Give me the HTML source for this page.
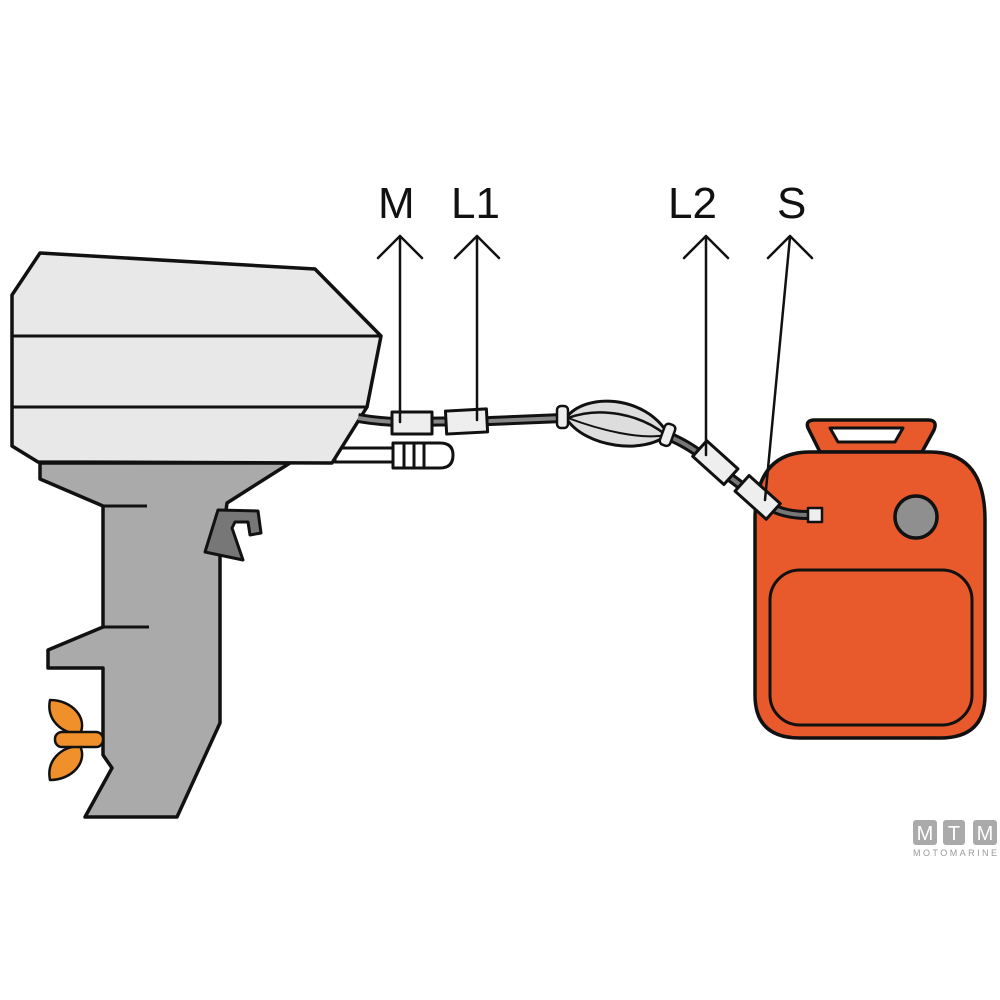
<!DOCTYPE html>
<html><head><meta charset="utf-8"><style>
html,body{margin:0;padding:0;background:#fff;width:1000px;height:1000px;overflow:hidden}
svg{display:block}
</style></head><body>
<svg width="1000" height="1000" viewBox="0 0 1000 1000" xmlns="http://www.w3.org/2000/svg" stroke-linejoin="round">
<!-- lower unit -->
<polygon points="40,463 290,463 227,503 220,556 220,723 177,817 85,817 112,768 103,755 103,668 48,668 48,650 103,627 103,506 40,479" fill="#aaaaaa" stroke="#111" stroke-width="3.5"/>
<line x1="103" y1="506" x2="147" y2="506" stroke="#111" stroke-width="3"/>
<line x1="103" y1="627" x2="149" y2="627" stroke="#111" stroke-width="3"/>
<!-- bracket -->
<polygon points="205,552 218,510 258,511 261,533 250,535 248,522 235,522 232,528 243,560" fill="#777" stroke="#111" stroke-width="3"/>
<!-- propeller -->
<path d="M50,700 C72,700 88,718 80,734 C62,734 46,720 50,700 Z" fill="#f0902a" stroke="#111" stroke-width="2.5"/>
<path d="M50,780 C72,780 88,762 80,746 C62,746 46,760 50,780 Z" fill="#f0902a" stroke="#111" stroke-width="2.5"/>
<rect x="55" y="732" width="48" height="15" rx="7" fill="#f0902a" stroke="#111" stroke-width="2.5"/>
<!-- lower tube + bullet -->
<rect x="335" y="448" width="60" height="14" fill="#fff" stroke="#111" stroke-width="3"/>
<path d="M393,443 L440,443 Q453,443 453,455 Q453,468 440,468 L393,468 Z" fill="#fff" stroke="#111" stroke-width="3"/>
<line x1="404" y1="444" x2="404" y2="467" stroke="#111" stroke-width="3"/>
<line x1="414" y1="444" x2="414" y2="467" stroke="#111" stroke-width="3"/>
<line x1="424" y1="444" x2="424" y2="467" stroke="#111" stroke-width="3"/>
<!-- cowling -->
<polygon points="40,253 315,269 381,336 367,407 332,463 38,462 12,446 12,295" fill="#e8e8e8" stroke="#111" stroke-width="3.5"/>
<line x1="12" y1="336" x2="381" y2="336" stroke="#111" stroke-width="3"/>
<line x1="12" y1="407" x2="367" y2="407" stroke="#111" stroke-width="3"/>
<!-- hose -->
<path d="M358,418 Q375,421 395,422 L490,421 L563,418" fill="none" stroke="#111" stroke-width="10"/>
<path d="M358,418 Q375,421 395,422 L490,421 L563,418" fill="none" stroke="#888" stroke-width="4"/>
<path d="M668,436 Q690,445 710,462 L760,500" fill="none" stroke="#111" stroke-width="10"/>
<path d="M668,436 Q690,445 710,462 L760,500" fill="none" stroke="#777" stroke-width="4"/>
<!-- connectors M L1 -->
<rect x="392" y="412" width="40" height="22" fill="#eee" stroke="#111" stroke-width="3"/>
<rect x="446" y="410" width="41" height="23" fill="#eee" stroke="#111" stroke-width="3" transform="rotate(-3 466 421)"/>
<!-- bulb -->
<path d="M566,418 C585,392 645,395 668,434 C645,455 585,448 566,418 Z" fill="#ddd" stroke="#111" stroke-width="3"/>
<path d="M568,418 C600,406 640,414 666,435" fill="none" stroke="#111" stroke-width="2.5"/>
<path d="M568,418 C600,430 640,440 666,435" fill="none" stroke="#111" stroke-width="2"/>
<rect x="557" y="406" width="11" height="22" rx="4" fill="#eee" stroke="#111" stroke-width="2.5"/>
<rect x="662" y="424" width="11" height="22" rx="4" fill="#eee" stroke="#111" stroke-width="2.5" transform="rotate(20 668 435)"/>
<!-- tank -->
<path d="M820,452 L808,428 Q805,420 815,420 L928,420 Q938,420 934,430 L922,452 Z" fill="#e85a2c" stroke="#111" stroke-width="3.5"/>
<path d="M830,428 L903,428 L895,442 L838,442 Z" fill="#fff" stroke="#111" stroke-width="3"/>
<path d="M810,452 L930,452 Q985,452 985,520 L985,695 Q985,738 940,738 L800,738 Q755,738 755,695 L755,520 Q755,452 810,452 Z" fill="#e85a2c" stroke="#111" stroke-width="3.5"/>
<rect x="770" y="570" width="202" height="155" rx="30" fill="#e85a2c" stroke="#111" stroke-width="3"/>
<circle cx="916" cy="517" r="21" fill="#8f8f8f" stroke="#111" stroke-width="3.5"/>
<path d="M765,503 Q780,515 808,515" fill="none" stroke="#111" stroke-width="10"/>
<path d="M765,503 Q780,515 808,515" fill="none" stroke="#777" stroke-width="4"/>
<rect x="808" y="508" width="14" height="14" fill="#eee" stroke="#111" stroke-width="2.5"/>
<!-- connectors L2 S -->
<rect x="694" y="452" width="42" height="21" fill="#eee" stroke="#111" stroke-width="3" transform="rotate(42 715 463)"/>
<rect x="737" y="487" width="42" height="21" fill="#eee" stroke="#111" stroke-width="3" transform="rotate(42 758 497)"/>
<!-- arrows -->
<g fill="none" stroke="#111" stroke-width="2.5" stroke-linecap="round">
<line x1="400" y1="237" x2="400" y2="422"/><polyline points="378,258 400,236 422,258"/>
<line x1="477" y1="237" x2="477" y2="420"/><polyline points="455,258 477,236 499,258"/>
<line x1="706" y1="237" x2="706" y2="455"/><polyline points="684,258 706,236 728,258"/>
<line x1="790" y1="237" x2="765" y2="500"/><polyline points="768,258 790,236 812,258"/>
</g>
<g font-family="Liberation Sans, sans-serif" font-size="44" fill="#111">
<text x="378" y="218">M</text>
<text x="451" y="218">L1</text>
<text x="668" y="218">L2</text>
<text x="777" y="218">S</text>
</g>
<!-- watermark -->
<g fill="#aaa">
<rect x="913" y="820" width="24" height="25" rx="3"/>
<rect x="943" y="820" width="22" height="25" rx="3"/>
<rect x="973" y="820" width="24" height="25" rx="3"/>
</g>
<g font-family="Liberation Sans, sans-serif" font-size="20" fill="#fff" text-anchor="middle">
<text x="925" y="840">M</text><text x="954" y="840">T</text><text x="985" y="840">M</text>
</g>
<text x="955" y="856" font-family="Liberation Sans, sans-serif" font-size="9" fill="#999" text-anchor="middle" textLength="84">MOTOMARINE</text>
</svg>
</body></html>
